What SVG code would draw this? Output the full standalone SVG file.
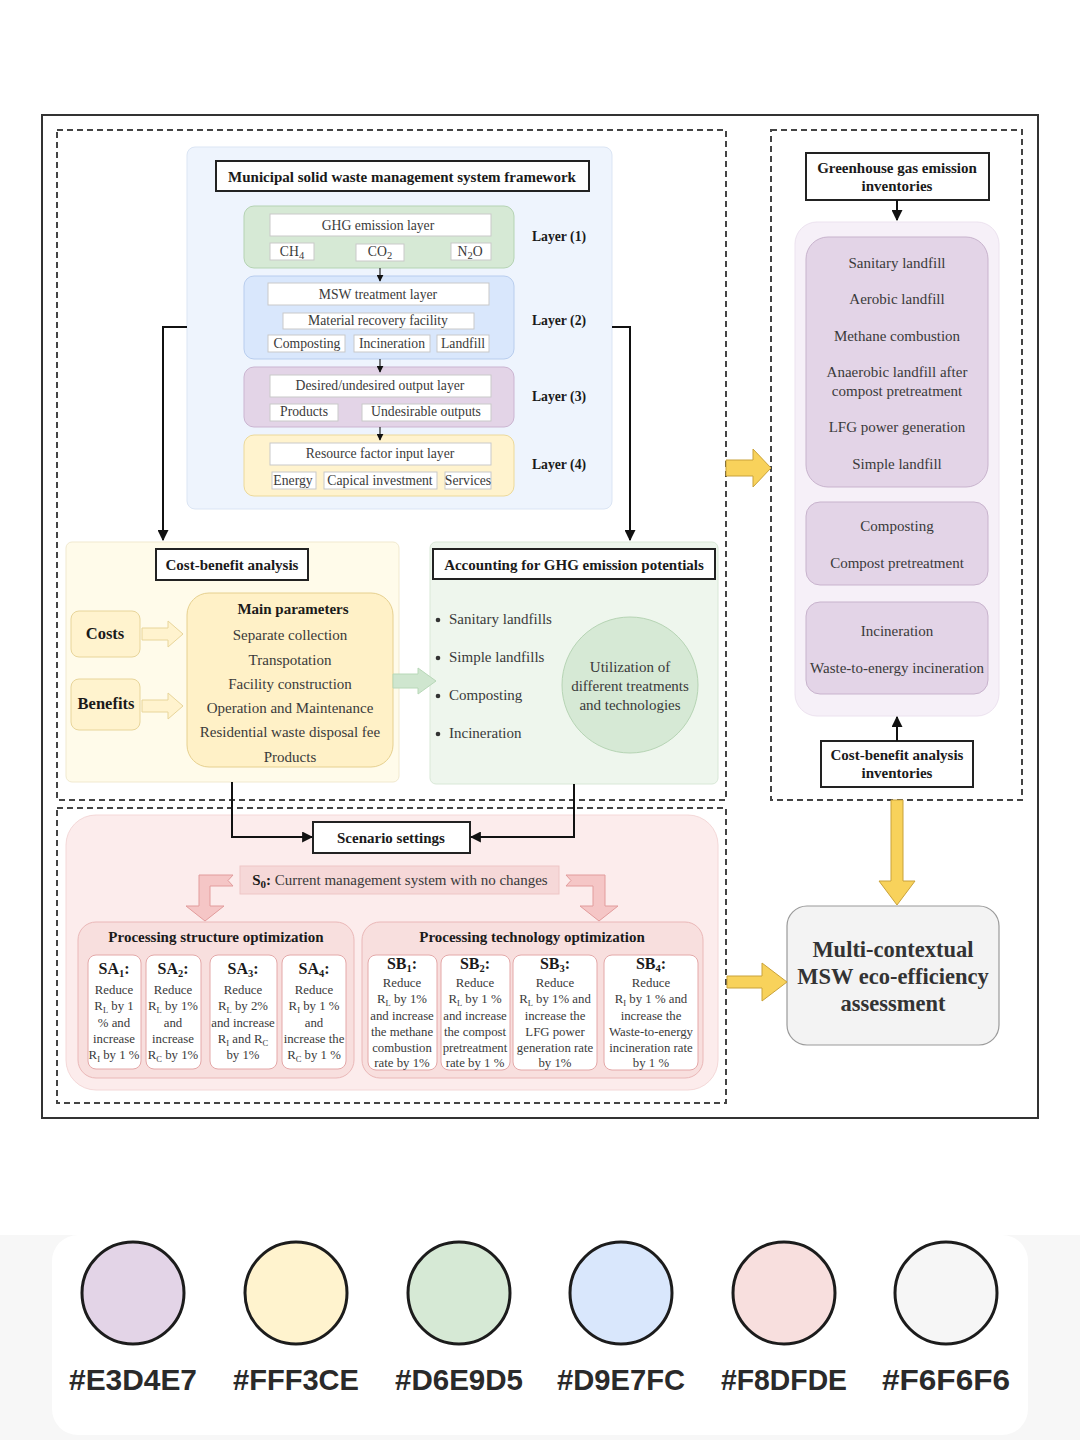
<svg xmlns="http://www.w3.org/2000/svg" width="1080" height="1440" viewBox="0 0 1080 1440">
  <defs>
    <marker id="ah" viewBox="0 0 10 10" refX="9" refY="5" markerWidth="7" markerHeight="7" markerUnits="userSpaceOnUse" orient="auto">
      <path d="M0,0 L10,5 L0,10 Z" fill="#111"/>
    </marker>
    <marker id="ahBig" viewBox="0 0 10 10" refX="9" refY="5" markerWidth="11" markerHeight="11" markerUnits="userSpaceOnUse" orient="auto">
      <path d="M0,0 L10,5 L0,10 Z" fill="#111"/>
    </marker>
    <style>
      text { font-family: "Liberation Serif", "Times New Roman", serif; fill: #3a3a3a; text-anchor: middle; }
      .t13 { font-size: 13.7px; }
      .t14 { font-size: 15px; }
      .t12 { font-size: 12.8px; }
      .bold { font-weight: bold; fill: #1a1a1a; }
      .title { fill: #fff; stroke: #222; stroke-width: 2; }
      .chip { fill: #fff; stroke: #c9c9c9; stroke-width: 1; }
      .dash { fill: none; stroke: #444; stroke-width: 2; stroke-dasharray: 6 4; }
      .conn { fill: none; stroke: #111; stroke-width: 2; }
      .thin { fill: none; stroke: #222; stroke-width: 1.2; }
      .yel { fill: #f8d25b; stroke: #c9a23a; stroke-width: 1; }
      .pinkArrow { fill: #f5c6c6; stroke: #e29c9c; stroke-width: 1; }
      .scen { fill: #fff; stroke: #e4a8a8; stroke-width: 1; }
      .pal { stroke: #1c1c1c; stroke-width: 3; }
      .hex { font-family: "Liberation Sans", Arial, sans-serif; font-size: 30px; font-weight: bold; fill: #2a2a2a; }
    </style>
  </defs>

  <rect width="1080" height="1440" fill="#ffffff"/>

  <!-- outer frame and dashed regions -->
  <rect x="42" y="115" width="996" height="1003" fill="none" stroke="#333" stroke-width="2"/>
  <rect class="dash" x="57" y="130" width="669" height="670"/>
  <rect class="dash" x="57" y="808" width="669" height="295"/>
  <rect class="dash" x="771" y="130" width="251" height="670"/>

  <!-- MSW management system framework -->
  <g id="framework">
    <rect x="187" y="147" width="425" height="362" rx="8" fill="#eef4fd" stroke="#dbe5f4"/>
    <rect class="title" x="216" y="161" width="373" height="30"/>
    <text class="t14 bold" x="402" y="182">Municipal solid waste management system framework</text>
  </g>

  <g id="layer1">
    <rect x="244" y="206" width="270" height="62" rx="10" fill="#d6e9d5" stroke="#b5d3b3"/>
    <rect class="chip" x="270" y="214" width="221" height="22"/>
    <text class="t13" x="378" y="230">GHG emission layer</text>
    <rect class="chip" x="270" y="243" width="44" height="17"/>
    <text class="t13" x="292" y="256">CH<tspan font-size="10.5" dy="3">4</tspan></text>
    <rect class="chip" x="356" y="244" width="48" height="17"/>
    <text class="t13" x="380" y="256">CO<tspan font-size="10.5" dy="3">2</tspan></text>
    <rect class="chip" x="451" y="243" width="40" height="17"/>
    <text class="t13" x="470" y="256">N<tspan font-size="10.5" dy="3">2</tspan><tspan dy="-3">O</tspan></text>
    <text class="t13 bold" x="559" y="241">Layer (1)</text>
  </g>

  <g id="layer2">
    <rect x="244" y="276" width="270" height="83" rx="10" fill="#d9e7fc" stroke="#b8cdee"/>
    <rect class="chip" x="268" y="283" width="221" height="22"/>
    <text class="t13" x="378" y="299">MSW treatment layer</text>
    <rect class="chip" x="283" y="313" width="191" height="16"/>
    <text class="t13" x="378" y="325">Material recovery facility</text>
    <rect class="chip" x="268" y="335" width="77" height="17"/>
    <text class="t13" x="307" y="348">Composting</text>
    <rect class="chip" x="354" y="335" width="76" height="17"/>
    <text class="t13" x="392" y="348">Incineration</text>
    <rect class="chip" x="437" y="335" width="52" height="17"/>
    <text class="t13" x="463" y="348">Landfill</text>
    <text class="t13 bold" x="559" y="325">Layer (2)</text>
  </g>

  <g id="layer3">
    <rect x="244" y="367" width="270" height="60" rx="10" fill="#e3d4e7" stroke="#cbb5d1"/>
    <rect class="chip" x="270" y="375" width="221" height="22"/>
    <text class="t13" x="380" y="390">Desired/undesired output layer</text>
    <rect class="chip" x="270" y="404" width="68" height="17"/>
    <text class="t13" x="304" y="416">Products</text>
    <rect class="chip" x="362" y="404" width="129" height="17"/>
    <text class="t13" x="426" y="416">Undesirable outputs</text>
    <text class="t13 bold" x="559" y="401">Layer (3)</text>
  </g>

  <g id="layer4">
    <rect x="244" y="435" width="270" height="61" rx="10" fill="#fff3ce" stroke="#ecd99a"/>
    <rect class="chip" x="270" y="443" width="221" height="22"/>
    <text class="t13" x="380" y="458">Resource factor input layer</text>
    <rect class="chip" x="272" y="472" width="44" height="17"/>
    <text class="t13" x="293" y="485">Energy</text>
    <rect class="chip" x="324" y="472" width="113" height="17"/>
    <text class="t13" x="380" y="485">Capical investment</text>
    <rect class="chip" x="445" y="472" width="46" height="17"/>
    <text class="t13" x="468" y="485">Services</text>
    <text class="t13 bold" x="559" y="469">Layer (4)</text>
  </g>

  <!-- Cost-benefit analysis -->
  <g id="cost-benefit">
    <rect x="66" y="542" width="333" height="240" rx="6" fill="#fffbea" stroke="#f1e9cf"/>
    <rect class="title" x="156" y="549" width="152" height="31"/>
    <text class="t14 bold" x="232" y="570">Cost-benefit analysis</text>
    <rect x="71" y="611" width="69" height="46" rx="8" fill="#fff3ce" stroke="#e8d59a"/>
    <text class="bold" x="105" y="639" font-size="16.5">Costs</text>
    <rect x="71" y="679" width="69" height="51" rx="8" fill="#fff3ce" stroke="#e8d59a"/>
    <text class="bold" x="106" y="709" font-size="16.5">Benefits</text>
    <path d="M142,628 L168,628 L168,621 L183,634 L168,647 L168,640 L142,640 Z" fill="#fff3ce" stroke="#e8d59a"/>
    <path d="M142,700 L168,700 L168,693 L183,706 L168,719 L168,712 L142,712 Z" fill="#fff3ce" stroke="#e8d59a"/>
    <rect x="187" y="593" width="206" height="174" rx="22" fill="#fff1c7" stroke="#e6d08f"/>
    <text class="t14 bold" x="293" y="614">Main parameters</text>
    <text class="t14" x="290" y="640">Separate collection</text>
    <text class="t14" x="290" y="665">Transpotation</text>
    <text class="t14" x="290" y="689">Facility construction</text>
    <text class="t14" x="290" y="713">Operation and Maintenance</text>
    <text class="t14" x="290" y="737">Residential waste disposal fee</text>
    <text class="t14" x="290" y="762">Products</text>
  </g>

  <!-- Accounting for GHG emission potentials -->
  <g id="ghg-accounting">
    <rect x="430" y="542" width="288" height="242" rx="6" fill="#eef6ed" stroke="#d9e8d7"/>
    <rect class="title" x="433" y="549" width="282" height="30"/>
    <text class="t14 bold" x="574" y="570">Accounting for GHG emission potentials</text>
    <g class="t14">
      <circle cx="438" cy="620" r="2.3" fill="#333"/>
      <text x="449" y="624" style="text-anchor:start">Sanitary landfills</text>
      <circle cx="438" cy="658" r="2.3" fill="#333"/>
      <text x="449" y="662" style="text-anchor:start">Simple landfills</text>
      <circle cx="438" cy="696" r="2.3" fill="#333"/>
      <text x="449" y="700" style="text-anchor:start">Composting</text>
      <circle cx="438" cy="734" r="2.3" fill="#333"/>
      <text x="449" y="738" style="text-anchor:start">Incineration</text>
    </g>
    <circle cx="630" cy="685" r="68" fill="#d6e9d5" stroke="#b6d4b4"/>
    <text class="t14" x="630" y="672">Utilization of</text>
    <text class="t14" x="630" y="691">different treatments</text>
    <text class="t14" x="630" y="710">and technologies</text>
  </g>

  <!-- Inventories panel -->
  <g id="ghg-inventories">
    <rect class="title" x="806" y="153" width="183" height="47"/>
    <text class="t14 bold" x="897" y="173">Greenhouse gas emission</text>
    <text class="t14 bold" x="897" y="191">inventories</text>
  </g>
  <g id="treatments">
    <rect x="795" y="222" width="204" height="494" rx="22" fill="#f6f0f8" stroke="#ece2ef"/>
    <rect x="806" y="237" width="182" height="250" rx="22" fill="#e3d4e7" stroke="#c8b3cd"/>
    <text class="t14" x="897" y="268">Sanitary landfill</text>
    <text class="t14" x="897" y="304">Aerobic landfill</text>
    <text class="t14" x="897" y="341">Methane combustion</text>
    <text class="t14" x="897" y="377">Anaerobic landfill after</text>
    <text class="t14" x="897" y="396">compost pretreatment</text>
    <text class="t14" x="897" y="432">LFG power generation</text>
    <text class="t14" x="897" y="469">Simple landfill</text>
    <rect x="806" y="502" width="182" height="83" rx="14" fill="#e3d4e7" stroke="#c8b3cd"/>
    <text class="t14" x="897" y="531">Composting</text>
    <text class="t14" x="897" y="568">Compost pretreatment</text>
    <rect x="806" y="602" width="182" height="92" rx="14" fill="#e3d4e7" stroke="#c8b3cd"/>
    <text class="t14" x="897" y="636">Incineration</text>
    <text class="t14" x="897" y="673">Waste-to-energy incineration</text>
  </g>
  <g id="cost-inventories">
    <rect class="title" x="821" y="741" width="152" height="46"/>
    <text class="t14 bold" x="897" y="760">Cost-benefit analysis</text>
    <text class="t14 bold" x="897" y="778">inventories</text>
  </g>

  <!-- Assessment -->
  <g id="assessment">
    <rect x="787" y="906" width="212" height="139" rx="20" fill="#f3f3f3" stroke="#9a9a9a" stroke-width="1.2"/>
    <text class="bold" x="893" y="957" font-size="22.5" style="fill:#333">Multi-contextual</text>
    <text class="bold" x="893" y="984" font-size="22.5" style="fill:#333">MSW eco-efficiency</text>
    <text class="bold" x="893" y="1011" font-size="22.5" style="fill:#333">assessment</text>
  </g>

  <!-- Scenario settings -->
  <g id="scenarios">
    <rect x="66" y="815" width="652" height="275" rx="30" fill="#fcecec" stroke="#f4d8d8"/>
    <rect class="title" x="313" y="822" width="157" height="31"/>
    <text class="t14 bold" x="391" y="843">Scenario settings</text>
    <rect x="240" y="866" width="319" height="28" fill="#f6d8d8" stroke="#eec6c6"/>
    <text class="t14" x="400" y="885"><tspan font-weight="bold" fill="#1a1a1a">S<tspan font-size="11" dy="3">0</tspan><tspan dy="-3">:</tspan></tspan> Current management system with no changes</text>
  </g>

  <g id="structure-optimization">
    <rect x="78" y="922" width="276" height="156" rx="18" fill="#f8dfde" stroke="#eab8b8"/>
    <text class="t14 bold" x="216" y="942">Processing structure optimization</text>
    <rect class="scen" x="88" y="955" width="53" height="114" rx="8"/>
    <rect class="scen" x="146" y="955" width="55" height="114" rx="8"/>
    <rect class="scen" x="210" y="955" width="67" height="114" rx="8"/>
    <rect class="scen" x="282" y="955" width="64" height="114" rx="8"/>
    <g class="t12">
      <text class="bold" x="114" y="974" font-size="16">SA<tspan font-size="10.5" dy="3">1</tspan><tspan dy="-3">:</tspan></text>
      <text x="114" y="994">Reduce</text>
      <text x="114" y="1010">R<tspan font-size="8.5" dy="3">L</tspan><tspan dy="-3"> by 1</tspan></text>
      <text x="114" y="1027">% and</text>
      <text x="114" y="1043">increase</text>
      <text x="114" y="1059">R<tspan font-size="8.5" dy="3">I</tspan><tspan dy="-3"> by 1 %</tspan></text>

      <text class="bold" x="173" y="974" font-size="16">SA<tspan font-size="10.5" dy="3">2</tspan><tspan dy="-3">:</tspan></text>
      <text x="173" y="994">Reduce</text>
      <text x="173" y="1010">R<tspan font-size="8.5" dy="3">L</tspan><tspan dy="-3"> by 1%</tspan></text>
      <text x="173" y="1027">and</text>
      <text x="173" y="1043">increase</text>
      <text x="173" y="1059">R<tspan font-size="8.5" dy="3">C</tspan><tspan dy="-3"> by 1%</tspan></text>

      <text class="bold" x="243" y="974" font-size="16">SA<tspan font-size="10.5" dy="3">3</tspan><tspan dy="-3">:</tspan></text>
      <text x="243" y="994">Reduce</text>
      <text x="243" y="1010">R<tspan font-size="8.5" dy="3">L</tspan><tspan dy="-3"> by 2%</tspan></text>
      <text x="243" y="1027">and increase</text>
      <text x="243" y="1043">R<tspan font-size="8.5" dy="3">I</tspan><tspan dy="-3"> and R</tspan><tspan font-size="8.5" dy="3">C</tspan></text>
      <text x="243" y="1059">by 1%</text>

      <text class="bold" x="314" y="974" font-size="16">SA<tspan font-size="10.5" dy="3">4</tspan><tspan dy="-3">:</tspan></text>
      <text x="314" y="994">Reduce</text>
      <text x="314" y="1010">R<tspan font-size="8.5" dy="3">I</tspan><tspan dy="-3"> by 1 %</tspan></text>
      <text x="314" y="1027">and</text>
      <text x="314" y="1043">increase the</text>
      <text x="314" y="1059">R<tspan font-size="8.5" dy="3">C</tspan><tspan dy="-3"> by 1 %</tspan></text>
    </g>
  </g>

  <g id="technology-optimization">
    <rect x="362" y="922" width="341" height="156" rx="18" fill="#f8dfde" stroke="#eab8b8"/>
    <text class="t14 bold" x="532" y="942">Processing technology optimization</text>
    <rect class="scen" x="368" y="955" width="69" height="115" rx="8"/>
    <rect class="scen" x="441" y="955" width="69" height="115" rx="8"/>
    <rect class="scen" x="513" y="955" width="84" height="115" rx="8"/>
    <rect class="scen" x="604" y="955" width="94" height="115" rx="8"/>
    <g class="t12">
      <text class="bold" x="402" y="969" font-size="16">SB<tspan font-size="10.5" dy="3">1</tspan><tspan dy="-3">:</tspan></text>
      <text x="402" y="987">Reduce</text>
      <text x="402" y="1003">R<tspan font-size="8.5" dy="3">L</tspan><tspan dy="-3"> by 1%</tspan></text>
      <text x="402" y="1020">and increase</text>
      <text x="402" y="1036">the methane</text>
      <text x="402" y="1052">combustion</text>
      <text x="402" y="1067">rate by 1%</text>

      <text class="bold" x="475" y="969" font-size="16">SB<tspan font-size="10.5" dy="3">2</tspan><tspan dy="-3">:</tspan></text>
      <text x="475" y="987">Reduce</text>
      <text x="475" y="1003">R<tspan font-size="8.5" dy="3">L</tspan><tspan dy="-3"> by 1 %</tspan></text>
      <text x="475" y="1020">and increase</text>
      <text x="475" y="1036">the compost</text>
      <text x="475" y="1052">pretreatment</text>
      <text x="475" y="1067">rate by 1 %</text>

      <text class="bold" x="555" y="969" font-size="16">SB<tspan font-size="10.5" dy="3">3</tspan><tspan dy="-3">:</tspan></text>
      <text x="555" y="987">Reduce</text>
      <text x="555" y="1003">R<tspan font-size="8.5" dy="3">L</tspan><tspan dy="-3"> by 1% and</tspan></text>
      <text x="555" y="1020">increase the</text>
      <text x="555" y="1036">LFG power</text>
      <text x="555" y="1052">generation rate</text>
      <text x="555" y="1067">by 1%</text>

      <text class="bold" x="651" y="969" font-size="16">SB<tspan font-size="10.5" dy="3">4</tspan><tspan dy="-3">:</tspan></text>
      <text x="651" y="987">Reduce</text>
      <text x="651" y="1003">R<tspan font-size="8.5" dy="3">I</tspan><tspan dy="-3"> by 1 % and</tspan></text>
      <text x="651" y="1020">increase the</text>
      <text x="651" y="1036">Waste-to-energy</text>
      <text x="651" y="1052">incineration rate</text>
      <text x="651" y="1067">by 1 %</text>
    </g>
  </g>

  <!-- Connectors -->
  <g id="connectors">
    <!-- layer stack arrows -->
    <line class="thin" x1="380" y1="268" x2="380" y2="281" marker-end="url(#ah)"/>
    <line class="thin" x1="380" y1="359" x2="380" y2="372" marker-end="url(#ah)"/>
    <line class="thin" x1="380" y1="427" x2="380" y2="440" marker-end="url(#ah)"/>
    <!-- framework to analyses -->
    <polyline class="conn" points="187,327 163,327 163,540" marker-end="url(#ahBig)"/>
    <polyline class="conn" points="612,327 630,327 630,540" marker-end="url(#ahBig)"/>
    <!-- analyses to scenario settings -->
    <polyline class="conn" points="232,782 232,837 312,837" marker-end="url(#ahBig)"/>
    <polyline class="conn" points="574,784 574,837 471,837" marker-end="url(#ahBig)"/>
    <!-- inventories -->
    <line class="conn" x1="897" y1="200" x2="897" y2="220" marker-end="url(#ahBig)"/>
    <line class="conn" x1="897" y1="741" x2="897" y2="717" marker-end="url(#ahBig)"/>
    <!-- cost-benefit to GHG accounting -->
    <path d="M393,674 L418,674 L418,668 L436,681 L418,694 L418,688 L393,688 Z" fill="#cfe6cf" stroke="#b8d8b8"/>
    <!-- block arrows towards the assessment -->
    <path class="yel" d="M726,460 L753,460 L753,449 L771,468 L753,487 L753,476 L726,476 Z"/>
    <path class="yel" d="M891,800 L903,800 L903,881 L915,881 L897,905 L879,881 L891,881 Z"/>
    <path class="yel" d="M727,976 L762,976 L762,963 L787,982 L762,1001 L762,988 L727,988 Z"/>
    <!-- baseline scenario to optimization groups -->
    <path class="pinkArrow" d="M233,875 L199,875 L199,906 L186,906 L205,921 L224,906 L210,906 L210,886 L233,886 L228,880.5 Z"/>
    <path class="pinkArrow" d="M566,875 L605,875 L605,906 L618,906 L599,921 L580,906 L593,906 L593,886 L566,886 L571,880.5 Z"/>
  </g>

  <!-- colour legend -->
  <g id="palette">
    <rect x="0" y="1235" width="1080" height="205" fill="#f7f7f7"/>
    <rect x="52" y="1235" width="976" height="200" rx="26" fill="#ffffff"/>
    <circle class="pal" cx="133" cy="1293" r="51" fill="#E3D4E7"/>
    <circle class="pal" cx="296" cy="1293" r="51" fill="#FFF3CE"/>
    <circle class="pal" cx="459" cy="1293" r="51" fill="#D6E9D5"/>
    <circle class="pal" cx="621" cy="1293" r="51" fill="#D9E7FC"/>
    <circle class="pal" cx="784" cy="1293" r="51" fill="#F8DFDE"/>
    <circle class="pal" cx="946" cy="1293" r="51" fill="#F6F6F6"/>
    <text class="hex" x="133" y="1390" textLength="128" lengthAdjust="spacingAndGlyphs">#E3D4E7</text>
    <text class="hex" x="296" y="1390" textLength="126" lengthAdjust="spacingAndGlyphs">#FFF3CE</text>
    <text class="hex" x="459" y="1390" textLength="128" lengthAdjust="spacingAndGlyphs">#D6E9D5</text>
    <text class="hex" x="621" y="1390" textLength="128" lengthAdjust="spacingAndGlyphs">#D9E7FC</text>
    <text class="hex" x="784" y="1390" textLength="126" lengthAdjust="spacingAndGlyphs">#F8DFDE</text>
    <text class="hex" x="946" y="1390" textLength="128" lengthAdjust="spacingAndGlyphs">#F6F6F6</text>
  </g>
</svg>
